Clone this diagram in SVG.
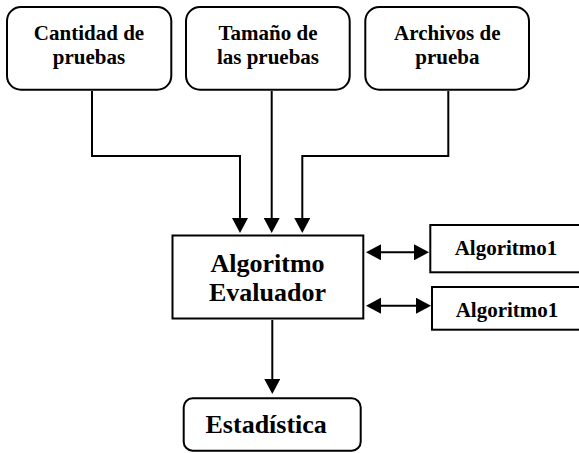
<?xml version="1.0" encoding="UTF-8"?>
<svg xmlns="http://www.w3.org/2000/svg" width="579" height="453" viewBox="0 0 579 453">
  <style>
    .box { fill: #ffffff; stroke: #000000; stroke-width: 2; }
    .conn { fill: none; stroke: #000000; stroke-width: 2; }
  </style>
  <defs>
    <marker id="arrow" markerUnits="userSpaceOnUse" markerWidth="15" markerHeight="16" refX="12" refY="8" orient="auto-start-reverse" viewBox="0 0 15 16">
      <path d="M0,0 L15,8 L0,16 Z" fill="#000000"/>
    </marker>
  </defs>
  <rect width="579" height="453" fill="#ffffff"/>

  <g id="connectors">
    <path class="conn" d="M92,91 V156 H240 V230" marker-end="url(#arrow)"/>
    <path class="conn" d="M271.7,91 V230" marker-end="url(#arrow)"/>
    <path class="conn" d="M448.3,91 V156 H302.3 V230" marker-end="url(#arrow)"/>
    <path class="conn" d="M272.3,320 V391" marker-end="url(#arrow)"/>
    <path class="conn" d="M369,252.3 H426" marker-start="url(#arrow)" marker-end="url(#arrow)"/>
    <path class="conn" d="M369,305.7 H428" marker-start="url(#arrow)" marker-end="url(#arrow)"/>
  </g>

  <g id="cantidad">
    <rect class="box" x="7" y="7" width="164.3" height="82.7" rx="14"/>
    <text x="89" y="40" font-family="Liberation Serif, serif" font-weight="bold" font-size="21" text-anchor="middle" fill="#000000">Cantidad de</text>
    <text x="89" y="64" font-family="Liberation Serif, serif" font-weight="bold" font-size="21" text-anchor="middle" fill="#000000">pruebas</text>
  </g>
  <g id="tamano">
    <rect class="box" x="186" y="7" width="163.7" height="82.7" rx="14"/>
    <text x="268" y="40" font-family="Liberation Serif, serif" font-weight="bold" font-size="21" text-anchor="middle" fill="#000000">Tama&#241;o de</text>
    <text x="268" y="64" font-family="Liberation Serif, serif" font-weight="bold" font-size="21" text-anchor="middle" fill="#000000">las pruebas</text>
  </g>
  <g id="archivos">
    <rect class="box" x="365.3" y="7" width="163.7" height="82.7" rx="14"/>
    <text x="447.3" y="40" font-family="Liberation Serif, serif" font-weight="bold" font-size="21" text-anchor="middle" fill="#000000">Archivos de</text>
    <text x="447.3" y="64" font-family="Liberation Serif, serif" font-weight="bold" font-size="21" text-anchor="middle" fill="#000000">prueba</text>
  </g>

  <g id="evaluador">
    <rect class="box" x="172.5" y="235.5" width="190.8" height="83"/>
    <text x="267.5" y="271.7" font-family="Liberation Serif, serif" font-weight="bold" font-size="26" text-anchor="middle" fill="#000000">Algoritmo</text>
    <text x="267.5" y="301" font-family="Liberation Serif, serif" font-weight="bold" font-size="26" text-anchor="middle" fill="#000000">Evaluador</text>
  </g>

  <g id="algoritmo1a">
    <rect class="box" x="430.3" y="225" width="160" height="47.3"/>
    <text x="506" y="255" font-family="Liberation Serif, serif" font-weight="bold" font-size="21" text-anchor="middle" fill="#000000">Algoritmo1</text>
  </g>
  <g id="algoritmo1b">
    <rect class="box" x="432" y="287" width="160" height="42.7"/>
    <text x="507" y="316.7" font-family="Liberation Serif, serif" font-weight="bold" font-size="21" text-anchor="middle" fill="#000000">Algoritmo1</text>
  </g>

  <g id="estadistica">
    <rect class="box" x="183.7" y="398.3" width="177" height="52.4" rx="9"/>
    <text x="266.2" y="433.3" font-family="Liberation Serif, serif" font-weight="bold" font-size="26" text-anchor="middle" fill="#000000">Estad&#237;stica</text>
  </g>
</svg>
